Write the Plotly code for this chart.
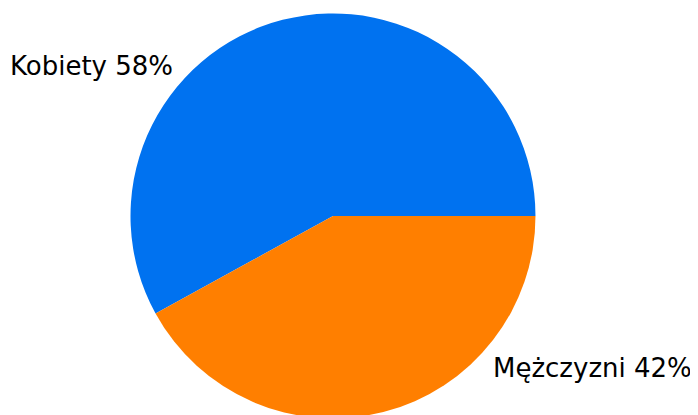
import plotly.graph_objects as go

labels = ["Kobiety", "Mężczyzni"]
values = [58, 42]
colors = ["#0072f0", "#ff7f00"]

# label anchor positions (paper fractions)
label_x = [0 / 698, 686 / 698]
label_y = [(415 - 58) / 415, (415 - 360) / 415]
label_anchor = ["left", "right"]

# first slice runs counterclockwise from 3 o'clock
first_share = values[0] / sum(values) * 360
start_rotation = 90 - first_share

fig = go.Figure(
    go.Pie(
        labels=labels,
        values=values,
        marker=dict(colors=colors, line=dict(width=0)),
        sort=False,
        direction="counterclockwise",
        rotation=start_rotation,
        textinfo="none",
        hoverinfo="skip",
        domain=dict(x=[0.1755, 0.7557], y=[0.0092, 0.9885]),
    )
)

for lab, val, x, y, a in zip(labels, values, label_x, label_y, label_anchor):
    fig.add_annotation(
        x=x, y=y, xref="paper", yref="paper",
        text=f"{lab} {val}%", showarrow=False,
        xanchor=a, yanchor="middle",
        font=dict(family="DejaVu Sans", size=26, color="#000000"),
    )

fig.update_layout(
    width=698, height=415,
    margin=dict(l=0, r=0, t=0, b=0),
    showlegend=False,
    paper_bgcolor="white",
    plot_bgcolor="white",
)

fig.write_html("out.html")
